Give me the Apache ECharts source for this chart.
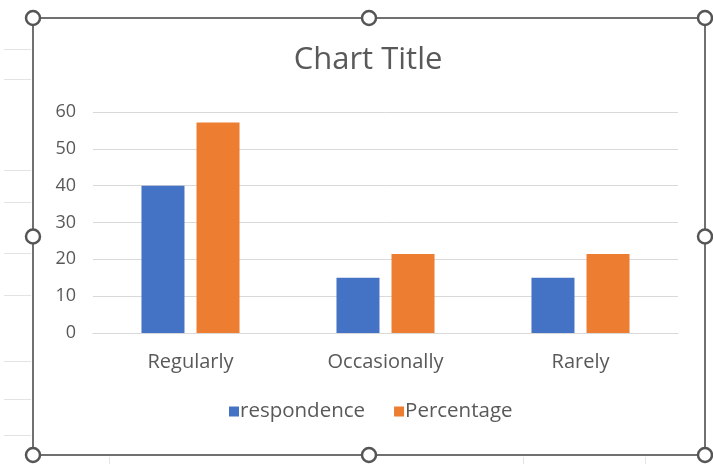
<!DOCTYPE html>
<html>
<head>
<meta charset="utf-8">
<script src="https://cdn.jsdelivr.net/npm/echarts@6/dist/echarts.min.js"></script>
<style>
  html, body { margin: 0; padding: 0; background: #ffffff; }
  #chart { width: 713px; height: 464px; }
</style>
</head>
<body>
<div id="chart"></div>
<script>
// Survey responses per frequency, with share of total respondents
const categories = ['Regularly', 'Occasionally', 'Rarely'];
const respondence = [40, 15, 15];
const percentage = [57.14, 21.43, 21.43];
const seriesNames = ['respondence', 'Percentage'];
const yTicks = { min: 0, max: 60, interval: 10 };

const FONT = '"Open Sans", "Noto Sans", sans-serif';
const TEXT = '#595959';

// Spreadsheet cell lines peeking out around the chart object
const sheetRowsLeft = [49, 79, 170, 202, 253, 295, 361, 399, 435];
const sheetColsBottom = [109, 523, 645];

// Selection frame and its resize handles
const frame = { x: 33, y: 18, w: 672, h: 437 };
const handles = [
  [frame.x, frame.y], [frame.x + frame.w / 2, frame.y], [frame.x + frame.w, frame.y],
  [frame.x, frame.y + frame.h / 2], [frame.x + frame.w, frame.y + frame.h / 2],
  [frame.x, frame.y + frame.h], [frame.x + frame.w / 2, frame.y + frame.h], [frame.x + frame.w, frame.y + frame.h]
];

const graphics = [];
sheetRowsLeft.forEach(y => graphics.push({
  type: 'line', silent: true, z: 0,
  shape: { x1: 4, y1: y + 0.5, x2: frame.x - 2, y2: y + 0.5 },
  style: { stroke: '#e3e3e3', lineWidth: 1 }
}));
sheetColsBottom.forEach(x => graphics.push({
  type: 'line', silent: true, z: 0,
  shape: { x1: x + 0.5, y1: frame.y + frame.h + 2, x2: x + 0.5, y2: 464 },
  style: { stroke: '#e3e3e3', lineWidth: 1 }
}));
graphics.push({
  type: 'rect', silent: true, z: 10,
  shape: { x: frame.x, y: frame.y, width: frame.w, height: frame.h },
  style: { fill: 'none', stroke: '#707070', lineWidth: 2 }
});
handles.forEach(([cx, cy]) => graphics.push({
  type: 'circle', silent: true, z: 11,
  shape: { cx: cx, cy: cy, r: 7 },
  style: { fill: '#ffffff', stroke: '#555555', lineWidth: 2.5 }
}));

const chart = echarts.init(document.getElementById('chart'), null, { renderer: 'canvas' });
chart.setOption({
  animation: false,
  backgroundColor: '#ffffff',
  title: {
    text: 'Chart Title',
    left: frame.x + frame.w / 2 - 6,
    textAlign: 'center',
    top: 40,
    textStyle: { fontFamily: FONT, fontSize: 31, fontWeight: 'normal', color: TEXT }
  },
  legend: {
    data: seriesNames,
    bottom: 37,
    left: 224,
    icon: 'rect',
    itemWidth: 10,
    itemHeight: 10,
    itemGap: 29,
    textStyle: { fontFamily: FONT, fontSize: 20.5, color: TEXT, padding: [0, 0, 0, -4] }
  },
  grid: { left: 93, right: 35, top: 112, bottom: 131, containLabel: false },
  xAxis: {
    type: 'category',
    data: categories,
    axisLine: { lineStyle: { color: '#d9d9d9' } },
    axisTick: { show: false },
    axisLabel: { fontFamily: FONT, fontSize: 20, color: TEXT, margin: 19 }
  },
  yAxis: {
    type: 'value',
    min: yTicks.min,
    max: yTicks.max,
    interval: yTicks.interval,
    axisLine: { show: false },
    axisTick: { show: false },
    splitLine: { lineStyle: { color: '#d9d9d9' } },
    axisLabel: { fontFamily: FONT, fontSize: 18, color: TEXT, margin: 17 }
  },
  series: [
    {
      name: seriesNames[0], type: 'bar', data: respondence,
      barWidth: 43, barGap: '28%',
      itemStyle: { color: '#4472c4' }
    },
    {
      name: seriesNames[1], type: 'bar', data: percentage,
      barWidth: 43,
      itemStyle: { color: '#ed7d31' }
    }
  ],
  graphic: graphics
});
</script>
</body>
</html>
